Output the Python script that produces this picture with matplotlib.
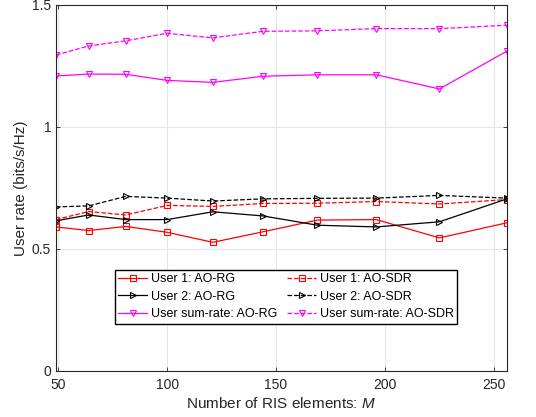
import matplotlib
matplotlib.use("Agg")
import matplotlib.pyplot as plt

plt.rcParams["font.family"] = ["Liberation Sans", "DejaVu Sans"]
plt.rcParams["mathtext.fontset"] = "custom"
plt.rcParams["mathtext.it"] = "Liberation Sans:italic"
plt.rcParams["mathtext.rm"] = "Liberation Sans"

# ======================
# DATA
# ======================

ris_elements = [49, 64, 81, 100, 121, 144, 169, 196, 225, 256]

user1_rg = [0.590, 0.575, 0.592, 0.568, 0.527, 0.570, 0.618, 0.620, 0.545, 0.607]
user1_sdr = [0.620, 0.653, 0.639, 0.678, 0.674, 0.686, 0.687, 0.694, 0.684, 0.702]
user2_rg = [0.615, 0.639, 0.620, 0.620, 0.652, 0.635, 0.597, 0.590, 0.611, 0.705]
user2_sdr = [0.672, 0.676, 0.715, 0.708, 0.696, 0.705, 0.707, 0.708, 0.719, 0.708]
sum_rg = [1.208, 1.216, 1.215, 1.190, 1.182, 1.207, 1.213, 1.213, 1.155, 1.310]
sum_sdr = [1.294, 1.331, 1.352, 1.383, 1.364, 1.391, 1.393, 1.402, 1.402, 1.416]

x_ticks = [50, 100, 150, 200, 250]
y_ticks = [0, 0.5, 1, 1.5]
y_tick_labels = ["0", "0.5", "1", "1.5"]


# ======================
# PLOTTING
# ======================

fig = plt.figure(figsize=(5.36, 4.17), dpi=100)
ax = fig.add_axes([56 / 536, 1 - 371 / 417, (507 - 56) / 536, (371 - 4.7) / 417])

mk = dict(markersize=5, markerfacecolor="none", linewidth=0.9, markeredgewidth=0.8)

ax.plot(ris_elements, user1_rg, "-s", color="#ff0000", label="User 1: AO-RG", **mk)
ax.plot(ris_elements, user1_sdr, "--s", color="#ff0000", label="User 1: AO-SDR", **mk)
ax.plot(ris_elements, user2_rg, "->", color="black", label="User 2: AO-RG", **mk)
ax.plot(ris_elements, user2_sdr, "-->", color="black", label="User 2: AO-SDR", **mk)
ax.plot(ris_elements, sum_rg, "-v", color="#ff00ff", label="User sum-rate: AO-RG", **mk)
ax.plot(ris_elements, sum_sdr, "--v", color="#ff00ff", label="User sum-rate: AO-SDR", **mk)

# legend goes row by row in the reference, matplotlib fills column by column
handles, labels = ax.get_legend_handles_labels()
order = [0, 2, 4, 1, 3, 5]
ax.legend([handles[i] for i in order], [labels[i] for i in order],
          ncol=2, loc="lower center", bbox_to_anchor=(0.51, 0.112),
          fontsize=9, fancybox=False, edgecolor="black", framealpha=1,
          borderpad=0.3, labelspacing=0.42, handlelength=2.3,
          handletextpad=0.3, columnspacing=0.8)

ax.set_xlim(49, 256)
ax.set_ylim(0, 1.5)
ax.set_xticks(x_ticks)
ax.set_yticks(y_ticks)
ax.set_yticklabels(y_tick_labels)
ax.tick_params(direction="in", top=True, right=True, labelsize=10,
               length=3, width=0.6, colors="#262626")
ax.tick_params(axis="x", pad=5)
ax.grid(True, color="#e6e6e6", linewidth=0.8)
ax.set_axisbelow(True)
for s in ax.spines.values():
    s.set_color("#262626")
    s.set_linewidth(0.8)

ax.set_xlabel("Number of RIS elements: $M$", fontsize=11, color="#262626", labelpad=3)
ax.set_ylabel("User rate (bits/s/Hz)", fontsize=11, color="#262626", labelpad=3)

fig.savefig("out.png", dpi=100)
